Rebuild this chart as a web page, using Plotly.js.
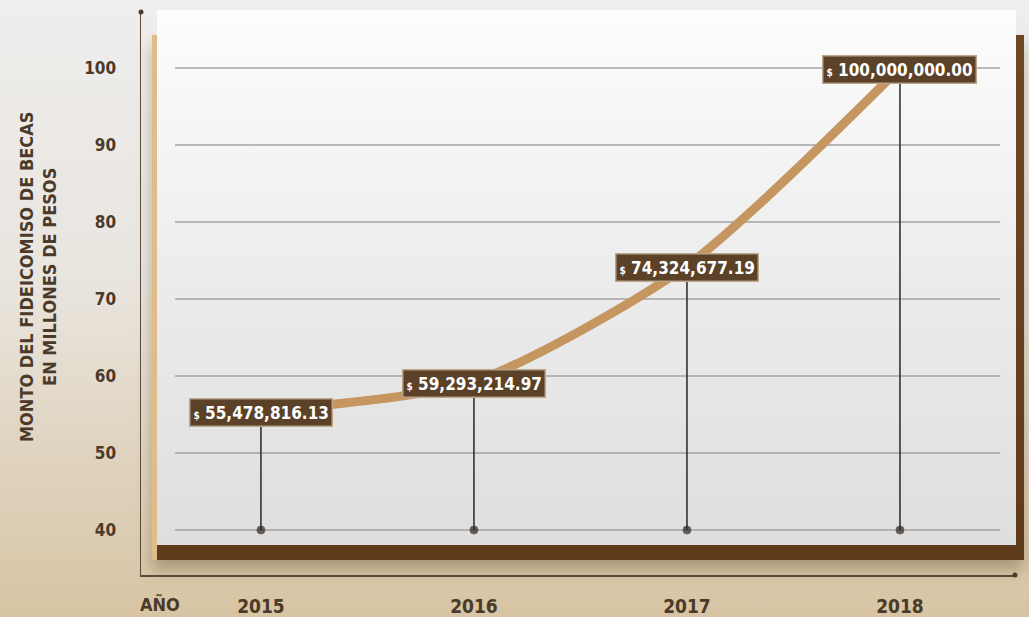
<!DOCTYPE html>
<html><head><meta charset="utf-8">
<script src="https://cdn.plot.ly/plotly-3.0.1.min.js"></script>
<style>
html,body{margin:0;padding:0;width:1029px;height:617px;overflow:hidden;}
body{background:linear-gradient(to bottom,#efeeed 0%,#e9e5df 45%,#d7c4a3 100%);position:relative;}
#frame{position:absolute;left:152px;top:35px;width:872px;height:525px;background:linear-gradient(to bottom,#6e4824 0%,#5e3b1b 100%);border-left:5px solid #dfbd8a;box-sizing:border-box;box-shadow:0 10px 14px rgba(90,60,30,0.35);}
#panel{position:absolute;left:157px;top:10px;width:859px;height:535px;background:linear-gradient(to bottom,#fdfdfd 0%,#ececec 50%,#dedede 100%);}
#chart{position:absolute;left:0;top:0;width:1029px;height:617px;}
</style></head><body>
<div id="frame"></div><div id="panel"></div><div id="chart"></div>
<script>
const years = [2015, 2016, 2017, 2018];
const amounts = [55.47881613, 59.29321497, 74.32467719, 100.0];
const amountLabels = ['55,478,816.13', '59,293,214.97', '74,324,677.19', '100,000,000.00'];
const yTicks = [40, 50, 60, 70, 80, 90, 100];
const yTitle = 'MONTO DEL FIDEICOMISO DE BECAS<br>EN MILLONES DE PESOS';
const xLead = 'AÑO';

const FONT = 'Liberation Sans Narrow, DejaVu Sans Condensed, Arial Narrow, sans-serif';
const BROWN = '#4b3a29';
const baseY = yTicks[0];

const traces = [];
// drop lines from each value to the baseline
years.forEach((yr, i) => {
  traces.push({
    x: [yr, yr], y: [amounts[i], baseY], mode: 'lines+markers', type: 'scatter',
    line: {color: '#3b3128', width: 1.6},
    marker: {size: [0, 8], color: '#2f2720'},
    hoverinfo: 'skip', showlegend: false
  });
});
// main curve
traces.push({
  x: years, y: amounts, mode: 'lines', type: 'scatter',
  line: {color: '#c59660', width: 9, shape: 'spline', smoothing: 0.7},
  showlegend: false
});

const shapes = yTicks.map(v => ({
  type: 'line', xref: 'paper', yref: 'y', x0: 0.039, x1: 0.983, y0: v, y1: v,
  line: {color: '#a3a3a3', width: 1.5}, layer: 'below'
}));
// end dots of the axis lines
shapes.push({type: 'circle', xref: 'paper', yref: 'paper', xsizemode: 'pixel', ysizemode: 'pixel',
  xanchor: 0, yanchor: 1, x0: -2.5, x1: 2.5, y0: -2.5, y1: 2.5,
  fillcolor: '#4a3a2a', line: {width: 0}});
shapes.push({type: 'circle', xref: 'paper', yref: 'paper', xsizemode: 'pixel', ysizemode: 'pixel',
  xanchor: 1, yanchor: 0, x0: -2.5, x1: 2.5, y0: -2.5, y1: 2.5,
  fillcolor: '#4a3a2a', line: {width: 0}});

const annotations = years.map((yr, i) => ({
  x: yr, y: amounts[i], xref: 'x', yref: 'y', showarrow: false, yshift: -2,
  text: '<span style="font-size:10px">$</span> ' + amountLabels[i],
  font: {family: FONT, size: 17, color: '#ffffff', weight: 'bold'},
  bgcolor: '#5a4128', bordercolor: '#b9a587', borderwidth: 1.5, borderpad: 3
}));
annotations.push({
  xref: 'paper', yref: 'paper', x: -0.118, y: 0.529, xanchor: 'center', yanchor: 'middle',
  textangle: -90, showarrow: false,
  text: yTitle, font: {family: FONT, size: 18, color: BROWN, weight: 'bold'}, align: 'center'
});
annotations.push({
  xref: 'paper', yref: 'paper', x: 0.0217, y: -0.051, xanchor: 'center', yanchor: 'middle', showarrow: false,
  text: xLead, font: {family: FONT, size: 18, color: BROWN, weight: 'bold'}
});

const layout = {
  width: 1029, height: 617,
  margin: {l: 141, r: 14, t: 12, b: 42},
  paper_bgcolor: 'rgba(0,0,0,0)', plot_bgcolor: 'rgba(0,0,0,0)',
  xaxis: {
    range: [2014.437, 2018.54], tickvals: years, ticktext: years.map(String),
    showgrid: false, zeroline: false, showline: true, linecolor: '#5a4a3a', linewidth: 1.5,
    ticks: '', ticklabelstandoff: 14,
    tickfont: {family: FONT, size: 19, color: BROWN, weight: 'bold'}
  },
  yaxis: {
    range: [34.16, 107.27], tickvals: yTicks, ticktext: yTicks.map(String),
    showgrid: false, zeroline: false, showline: true, linecolor: '#5a4a3a', linewidth: 1.5,
    ticks: '', ticklabelstandoff: 20,
    tickfont: {family: FONT, size: 17, color: BROWN, weight: 'bold'}
  },
  shapes: shapes, annotations: annotations, showlegend: false
};

Plotly.newPlot('chart', traces, layout, {displayModeBar: false, staticPlot: true});
</script>
</body></html>
